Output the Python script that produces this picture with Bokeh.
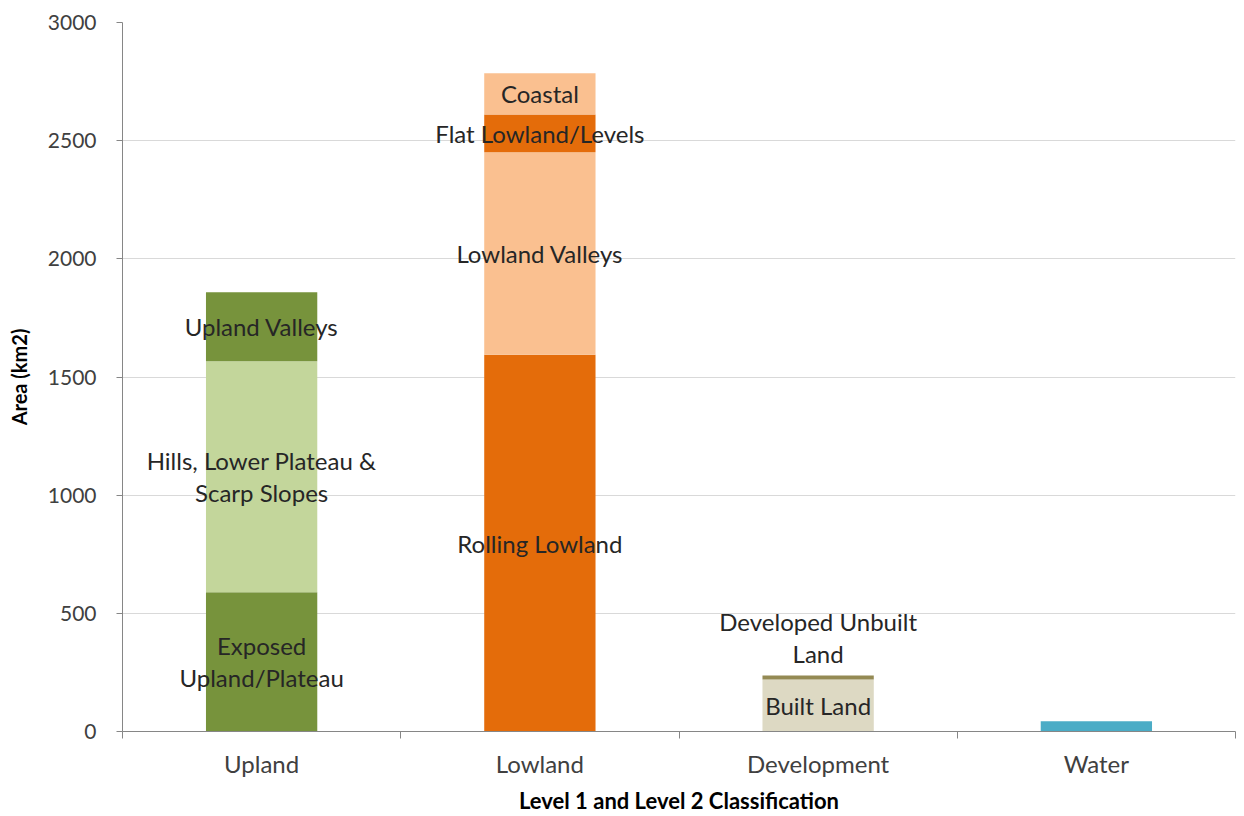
from bokeh.plotting import figure
from bokeh.models import ColumnDataSource, FixedTicker, Range1d
from bokeh.core.properties import value
from bokeh.embed import file_html
from bokeh.resources import INLINE

# ---- data ----
categories = ["Upland", "Lowland", "Development", "Water"]
seg_category = ["Upland", "Upland", "Upland",
                "Lowland", "Lowland", "Lowland", "Lowland",
                "Development", "Development",
                "Water"]
seg_names = ["Exposed\nUpland/Plateau", "Hills, Lower Plateau &\nScarp Slopes", "Upland Valleys",
             "Rolling Lowland", "Lowland Valleys", "Flat Lowland/Levels", "Coastal",
             "Built Land", "Developed Unbuilt\nLand",
             "Water"]
seg_values = [589, 978, 292,
              1594, 857, 160, 174,
              220, 17,
              43]
y_ticks = [0, 500, 1000, 1500, 2000, 2500, 3000]

# ---- styles ----
seg_colors = ["#77933C", "#C3D69B", "#77933C",
              "#E46C0A", "#FAC090", "#E46C0A", "#FAC090",
              "#DDD9C3", "#948A54",
              "#4BACC6"]
seg_label_text = [n if n != "Water" else "" for n in seg_names]
seg_label_dy = [0, 0, 0, 0, 0, 0, 0, 0, -40, 0]

FONT = "Lato"

# stacked positions
cat_index = {c: i for i, c in enumerate(categories)}
running = {c: 0.0 for c in categories}
xs, bottoms, tops, mids = [], [], [], []
for c, v in zip(seg_category, seg_values):
    b = running[c]
    t = b + v
    running[c] = t
    xs.append(cat_index[c] + 0.5)
    bottoms.append(b)
    tops.append(t)
    mids.append((b + t) / 2)

src = ColumnDataSource(dict(x=xs, bottom=bottoms, top=tops, mid=mids,
                            color=seg_colors, label=seg_label_text, dy=seg_label_dy))

p = figure(width=1240, height=816, output_backend="svg", toolbar_location=None,
           x_range=Range1d(0, len(categories)), y_range=Range1d(0, 3000),
           min_border_left=122, min_border_right=5, min_border_top=22, min_border_bottom=85)
p.outline_line_color = None
p.background_fill_color = "white"

p.vbar(x="x", bottom="bottom", top="top", width=0.4, color="color", line_color=None, source=src)
p.text(x="x", y="mid", text="label", y_offset="dy", source=src,
       text_align="center", text_baseline="middle",
       text_font=value(FONT), text_font_size="24px", text_color="#262626", text_line_height=1.1)

# grid
p.xgrid.visible = False
p.ygrid.grid_line_color = "#D9D9D9"
p.ygrid.grid_line_width = 1

# y axis
yax = p.yaxis[0]
yax.ticker = FixedTicker(ticks=y_ticks)
yax.axis_line_color = "#868686"
yax.major_tick_line_color = "#868686"
yax.major_tick_out = 6
yax.major_tick_in = 0
yax.minor_tick_line_color = None
yax.major_label_standoff = 20
yax.major_label_text_font = FONT
yax.major_label_text_font_size = "21px"
yax.major_label_text_color = "#404040"
yax.axis_label = "Area (km2)"
yax.axis_label_text_font = FONT
yax.axis_label_text_font_style = "bold"
yax.axis_label_text_font_size = "20px"
yax.axis_label_text_color = "#000000"
yax.axis_label_standoff = 14

# x axis: labels at category centres, separators as minor ticks
xax = p.xaxis[0]
xax.ticker = FixedTicker(ticks=[i + 0.5 for i in range(len(categories))],
                         minor_ticks=list(range(len(categories) + 1)))
xax.major_label_overrides = {i + 0.5: c for i, c in enumerate(categories)}
xax.axis_line_color = "#868686"
xax.major_tick_line_color = None
xax.major_tick_out = 0
xax.major_tick_in = 0
xax.minor_tick_line_color = "#868686"
xax.minor_tick_out = 7
xax.minor_tick_in = 0
xax.major_label_standoff = 10
xax.major_label_text_font = FONT
xax.major_label_text_font_size = "24px"
xax.major_label_text_color = "#404040"
xax.axis_label = "Level 1 and Level 2 Classification"
xax.axis_label_text_font = FONT
xax.axis_label_text_font_style = "bold"
xax.axis_label_text_font_size = "22px"
xax.axis_label_text_color = "#000000"
xax.axis_label_standoff = 6

open("out.html", "w").write(file_html(p, INLINE))
